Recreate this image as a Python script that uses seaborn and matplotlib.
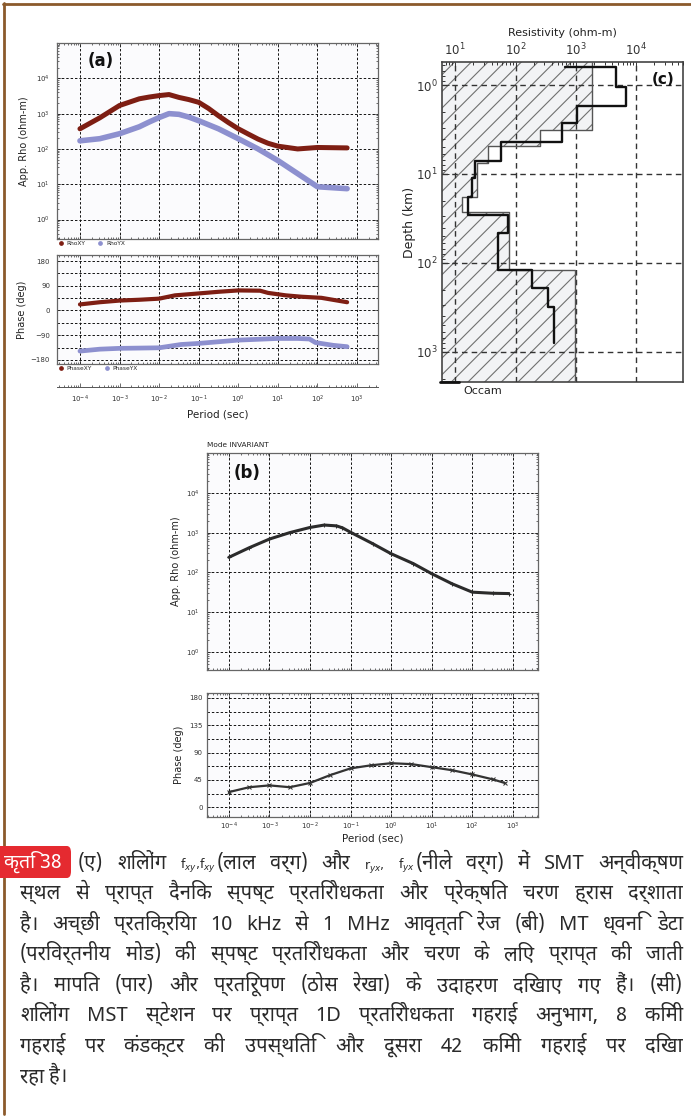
import numpy as np
import pandas as pd
import matplotlib
matplotlib.use("Agg")
import matplotlib.pyplot as plt
import seaborn as sns
from matplotlib import font_manager
from matplotlib.ft2font import FT2Font
from matplotlib.lines import Line2D
from matplotlib.patches import FancyBboxPatch
from matplotlib.ticker import FixedLocator, LogLocator, NullFormatter, MultipleLocator

# ---------------- data ----------------
# (a) Shillong SMT site: apparent resistivity (ohm-m) against log10 period (s)
log_T_rho_xy = [-4, -3.5, -3, -2.5, -2.25, -2, -1.75, -1.5, -1.25, -1, -0.75, -0.5, -0.25,
                0, 0.25, 0.5, 0.75, 1, 1.5, 2, 2.75]
rho_xy = [372, 760, 1700, 2630, 2950, 3240, 3470, 2880, 2500, 2090, 1400, 870, 560,
          372, 265, 190, 145, 120, 100, 110, 107]
log_T_rho_yx = [-4, -3.5, -3, -2.5, -2.25, -2, -1.75, -1.5, -1.25, -1, -0.5, 0, 0.5, 1,
                1.5, 2, 2.75]
rho_yx = [170, 195, 270, 425, 580, 775, 1000, 955, 800, 630, 372, 195, 100, 47,
          20, 8.5, 7.5]

# (a) phase (deg)
log_T_phase_xy = [-4, -3.5, -3, -2.5, -2, -1.6, -1, -0.5, 0, 0.55, 0.75, 1.2, 1.6, 2.1, 2.75]
phase_xy = [22, 30, 36, 39, 43, 55, 62, 68, 73, 72, 64, 55, 50, 46, 30]
log_T_phase_yx = [-4, -3.5, -3, -2.5, -2, -1.45, -1, -0.5, 0, 0.5, 1, 1.5, 1.8, 1.95, 2.4, 2.75]
phase_yx = [-148, -141, -138, -137, -136, -124, -120, -114, -108, -105, -102, -102, -104, -117, -127, -132]

# (b) invariant mode
log_T_rho_inv = [-4, -3.5, -3, -2.5, -2, -1.65, -1.35, -1.2, -1, -0.45, 0, 0.55, 1, 1.5, 2, 2.5, 2.9]
rho_inv = [240, 417, 690, 1000, 1350, 1550, 1480, 1320, 1020, 525, 295, 166, 93, 52, 32, 30, 29.5]
log_T_phase_inv = [-4, -3.5, -3, -2.5, -2, -1.5, -1, -0.5, 0, 0.5, 1, 1.5, 2, 2.5, 2.8]
phase_inv = [25, 33, 36, 33, 40, 53, 64, 69, 72.5, 71, 66, 61, 54, 46, 40]

# (c) 1D Occam resistivity-depth section
occam_top_km = [0.63, 1.05, 1.72, 2.67, 4.4, 7.1, 11, 18, 29, 46, 120, 190, 310]
occam_rho = [4700, 6900, 1050, 590, 58, 21, 19, 16.5, 76, 52, 190, 350, 440]
occam_base_km = 790
occam_start_rho = 660
bound_top_km = [0.4, 3.2, 4.8, 7.5, 18, 27, 120]
bound_rho = [1860, 257, 35, 23, 13, 77, 970]
bound_base_km = 3000

period_ticks = [1e-4, 1e-3, 1e-2, 1e-1, 1e0, 1e1, 1e2, 1e3]
rho_ticks = [1, 10, 100, 1e3, 1e4]
phase_ticks_a = [-180, -90, 0, 90, 180]
phase_ticks_b = [0, 45, 90, 135, 180]
res_ticks_c = [10, 100, 1e3, 1e4]
depth_ticks_c = [1, 10, 100, 1e3]

caption_badge = "कृति 38"
# "|" joins two pieces of one word drawn in different fonts
caption_lines = [
    "(ए) शिलोंग f$_{xy}$,f$_{xy}$|(लाल वर्ग) और r$_{yx}$, f$_{yx}$|(नीले वर्ग) में SMT अन्वीक्षण",
    "स्थल से प्राप्त दैनिक स्पष्ट प्रतिरोधकता और प्रेक्षित चरण ह्रास दर्शाता",
    "है। अच्छी प्रतिक्रिया 10 kHz से 1 MHz आवृत्ति रेंज (बी) MT ध्वनि डेटा",
    "(परिवर्तनीय मोड) की स्पष्ट प्रतिरोधकता और चरण के लिए प्राप्त की जाती",
    "है। मापित (पार) और प्रतिरूपण (ठोस रेखा) के उदाहरण दिखाए गए हैं। (सी)",
    "शिलोंग MST स्टेशन पर प्राप्त 1D प्रतिरोधकता गहराई अनुभाग, 8 किमी",
    "गहराई पर कंडक्टर की उपस्थिति और दूसरा 42 किमी गहराई पर दिखा",
    "रहा है।",
]

# ---------------- style ----------------
sns.set_theme(style="ticks")
plt.rcParams["font.family"] = ["DejaVu Sans"]
plt.rcParams["hatch.linewidth"] = 0.8
plt.rcParams["axes.facecolor"] = "#fbfbfd"

RED = "#7e1e13"
BLUE = "#8d90cf"
W, H = 691, 1120


def devanagari_family():
    found = []
    for entry in font_manager.fontManager.ttflist:
        try:
            if 0x0915 in FT2Font(entry.fname).get_charmap():
                found.append(entry.name)
        except Exception:
            continue
    preferred = ["Noto Sans Devanagari", "Lohit Devanagari", "FreeSans", "Mukta",
                 "Hind", "Poppins", "Kalimati", "Gargi", "Sarai", "Samanata"]
    for name in preferred:
        if name in found:
            return name
    plain = [n for n in found if "mono" not in n.lower()]
    if plain:
        return plain[0]
    return found[0] if found else None


deva = devanagari_family()
cap_family = ["Liberation Sans Narrow"] + ([deva] if deva else []) + ["DejaVu Sans"]
cap_family = [f for f in cap_family
              if f in {e.name for e in font_manager.fontManager.ttflist}] or ["DejaVu Sans"]

fig = plt.figure(figsize=(W / 100, H / 100), dpi=100)
fig.patch.set_facecolor("white")


def add_ax(l, t, r, b):
    return fig.add_axes([l / W, 1 - b / H, (r - l) / W, (b - t) / H])


def mt_style(ax, labelsize=5, pad=5):
    ax.tick_params(which="both", direction="in", top=True, right=True,
                   labelsize=labelsize, colors="#333", width=0.5, pad=pad)
    ax.tick_params(which="major", length=3)
    ax.tick_params(which="minor", length=1.6)
    for s in ax.spines.values():
        s.set_color("#666")
        s.set_linewidth(0.9)


def log_period_axis(ax, lo, hi):
    ax.set_xscale("log")
    ax.set_xlim(10 ** lo, 10 ** hi)
    ax.xaxis.set_major_locator(FixedLocator(period_ticks))
    ax.xaxis.set_minor_locator(LogLocator(base=10, subs=np.arange(2, 10), numticks=20))
    ax.xaxis.set_minor_formatter(NullFormatter())


def rho_axis(ax):
    ax.set_yscale("log")
    ax.set_ylim(10 ** -0.55, 10 ** 5.0)
    ax.yaxis.set_major_locator(FixedLocator(rho_ticks))
    ax.yaxis.set_minor_locator(LogLocator(base=10, subs=np.arange(2, 10), numticks=20))
    ax.yaxis.set_minor_formatter(NullFormatter())


GRID = dict(color="#111", lw=0.7, ls=(0, (2.5, 2)))


def curve(ax, logx, y, color, lw, marker=None, ms=0):
    df = pd.DataFrame({"period": np.power(10.0, logx), "value": y})
    sns.lineplot(data=df, x="period", y="value", ax=ax, color=color, lw=lw,
                 marker=marker, markersize=ms, markeredgecolor=color,
                 sort=False, estimator=None, zorder=4, solid_capstyle="round",
                 solid_joinstyle="round")
    ax.set_xlabel("")
    ax.set_ylabel("")


# ---------------- panel (a) resistivity ----------------
ax_ra = add_ax(57, 43, 378, 239)
log_period_axis(ax_ra, -4.58, 3.53)
rho_axis(ax_ra)
curve(ax_ra, log_T_rho_xy, rho_xy, RED, 3.6)
curve(ax_ra, log_T_rho_yx, rho_yx, BLUE, 4.0)
ax_ra.grid(True, which="major", **GRID)
mt_style(ax_ra)
ax_ra.tick_params(labelbottom=False)
ax_ra.set_ylabel("App. Rho (ohm-m)", fontsize=7, color="#222", labelpad=5)
ax_ra.text(0.135, 0.91, "(a)", transform=ax_ra.transAxes, fontsize=12,
           fontweight="bold", ha="center", va="center", color="#111")
ax_ra.legend(handles=[
    Line2D([], [], color=RED, marker="o", ms=2.4, lw=0),
    Line2D([], [], color=BLUE, marker="o", ms=2.4, lw=0)],
    labels=["RhoXY", "RhoYX"], loc="upper left", bbox_to_anchor=(0.0, -0.005),
    ncol=2, frameon=False, fontsize=4.2, handlelength=0.8, handletextpad=0.6,
    columnspacing=2.2, borderaxespad=0, borderpad=0.2)

# ---------------- panel (a) phase ----------------
ax_pa = add_ax(57, 255, 378, 364)
log_period_axis(ax_pa, -4.58, 3.53)
ax_pa.set_ylim(-195, 202)
curve(ax_pa, log_T_phase_xy, phase_xy, RED, 3.0)
curve(ax_pa, log_T_phase_yx, phase_yx, BLUE, 3.4)
ax_pa.yaxis.set_major_locator(FixedLocator(phase_ticks_a))
ax_pa.yaxis.set_minor_locator(MultipleLocator(45))
ax_pa.xaxis.grid(True, which="major", **GRID)
ax_pa.yaxis.grid(True, which="both", **GRID)
mt_style(ax_pa)
ax_pa.tick_params(labelbottom=False)
ax_pa.set_ylabel("Phase (deg)", fontsize=7, color="#222", labelpad=3)
ax_pa.legend(handles=[
    Line2D([], [], color=RED, marker="o", ms=2.4, lw=0),
    Line2D([], [], color=BLUE, marker="o", ms=2.4, lw=0)],
    labels=["PhaseXY", "PhaseYX"], loc="upper left", bbox_to_anchor=(0.0, -0.005),
    ncol=2, frameon=False, fontsize=4.2, handlelength=0.8, handletextpad=0.6,
    columnspacing=2.2, borderaxespad=0, borderpad=0.2)

# separate period scale under panel (a)
ax_ta = add_ax(57, 386, 378, 387)
ax_ta.set_facecolor("none")
log_period_axis(ax_ta, -4.58, 3.53)
ax_ta.set_yticks([])
for side in ("left", "right", "top"):
    ax_ta.spines[side].set_visible(False)
ax_ta.spines["bottom"].set_color("#555")
ax_ta.spines["bottom"].set_linewidth(0.7)
ax_ta.tick_params(which="both", direction="in", labelsize=5, colors="#333", width=0.5, pad=5)
ax_ta.tick_params(which="major", length=3)
ax_ta.tick_params(which="minor", length=1.6)
ax_ta.set_xlabel("Period (sec)", fontsize=7.5, color="#222", labelpad=3)

# ---------------- panel (c) ----------------
ax_c = add_ax(442, 62, 683, 382)
ax_c.set_facecolor("white")
ax_c.set_xscale("log")
ax_c.set_yscale("log")
ax_c.set_xlim(10 ** 0.78, 10 ** 4.78)
ax_c.set_ylim(10 ** 3.34, 10 ** -0.26)


def step_path(tops, rhos, base):
    xs, ys = [], []
    bottoms = list(tops[1:]) + [base]
    for t, b, r in zip(tops, bottoms, rhos):
        xs += [r, r]
        ys += [t, b]
    return xs, ys


bx, by = step_path(bound_top_km, bound_rho, bound_base_km)
ax_c.fill_betweenx(by, 1.0, bx, facecolor="#f2f3f5", edgecolor="#707070",
                   hatch="//", lw=0, zorder=1)
sns.lineplot(x=bx, y=by, ax=ax_c, sort=False, estimator=None, color="#555", lw=1.0, zorder=3)
mx, my = step_path(occam_top_km, occam_rho, occam_base_km)
mx = [occam_start_rho] + mx
my = [occam_top_km[0]] + my
sns.lineplot(x=mx, y=my, ax=ax_c, sort=False, estimator=None, color="#111", lw=1.7, zorder=4)
ax_c.xaxis.set_major_locator(FixedLocator(res_ticks_c))
ax_c.yaxis.set_major_locator(FixedLocator(depth_ticks_c))
for axis in (ax_c.xaxis, ax_c.yaxis):
    axis.set_minor_locator(LogLocator(base=10, subs=np.arange(2, 10), numticks=20))
    axis.set_minor_formatter(NullFormatter())
ax_c.grid(True, which="major", color="#333", lw=1.0, ls=(0, (4, 3)), zorder=2)
ax_c.set_axisbelow(False)
ax_c.xaxis.tick_top()
ax_c.xaxis.set_label_position("top")
ax_c.tick_params(which="both", direction="in", top=True, bottom=False, left=True, right=False,
                 labeltop=True, labelbottom=False, labelsize=8.5, colors="#333", width=0.7, pad=3)
ax_c.tick_params(which="major", length=5)
ax_c.tick_params(which="minor", length=2.5)
for s in ax_c.spines.values():
    s.set_color("#444")
    s.set_linewidth(1.2)
ax_c.set_xlabel("Resistivity (ohm-m)", fontsize=8, color="#222", labelpad=4)
ax_c.set_ylabel("Depth (km)", fontsize=9, color="#222", labelpad=0)
ax_c.text(0.917, 0.944, "(c)", transform=ax_c.transAxes, fontsize=11,
          fontweight="bold", ha="center", va="center", color="#111", zorder=6)
ax_c.add_line(Line2D([-0.01, 0.07], [0.0, 0.0], transform=ax_c.transAxes,
                     color="#111", lw=2.0, clip_on=False, zorder=6))
ax_c.text(0.087, -0.012, "Occam", transform=ax_c.transAxes, fontsize=8,
          ha="left", va="top", color="#222")

# ---------------- panel (b) ----------------
ax_rb = add_ax(207, 453, 538, 670)
log_period_axis(ax_rb, -4.54, 3.62)
rho_axis(ax_rb)
ax_rb.set_ylim(10 ** -0.45, 10 ** 5.0)
curve(ax_rb, log_T_rho_inv, rho_inv, "#2b2b2b", 2.2, "+", 3)
ax_rb.grid(True, which="major", **GRID)
mt_style(ax_rb)
ax_rb.tick_params(labelbottom=False)
ax_rb.set_ylabel("App. Rho (ohm-m)", fontsize=7, color="#222", labelpad=4)
ax_rb.text(0.12, 0.908, "(b)", transform=ax_rb.transAxes, fontsize=12,
           fontweight="bold", ha="center", va="center", color="#111")
ax_rb.text(0.0, 1.035, "Mode INVARIANT", transform=ax_rb.transAxes, fontsize=5.3,
           ha="left", va="center", color="#222")

ax_pb = add_ax(207, 693, 538, 817)
log_period_axis(ax_pb, -4.54, 3.62)
ax_pb.set_ylim(-16, 188)
curve(ax_pb, log_T_phase_inv, phase_inv, "#333", 1.6, "x", 3)
ax_pb.yaxis.set_major_locator(FixedLocator(phase_ticks_b))
ax_pb.yaxis.set_minor_locator(MultipleLocator(22.5))
ax_pb.xaxis.grid(True, which="major", **GRID)
ax_pb.yaxis.grid(True, which="both", **GRID)
mt_style(ax_pb, pad=3)
ax_pb.set_ylabel("Phase (deg)", fontsize=7, color="#222", labelpad=4)
ax_pb.set_xlabel("Period (sec)", fontsize=7.5, color="#222", labelpad=1)

# ---------------- frame ----------------
BROWN = "#8b5a2b"
fig.add_artist(Line2D([4 / W, 4 / W], [1 - 3 / H, 1 - 1114 / H], transform=fig.transFigure,
                      color=BROWN, lw=2.0))
fig.add_artist(Line2D([3 / W, 1.0], [1 - 4 / H, 1 - 4 / H], transform=fig.transFigure,
                      color=BROWN, lw=2.0))

# ---------------- caption ----------------
renderer = fig.canvas.get_renderer()
TEXT_COLOR = "#2a2a2a"


def make_piece(piece, size, x, y_base):
    if "$" in piece:
        return fig.text(x / W, 1 - y_base / H, piece, fontsize=size * 0.62,
                        family="DejaVu Sans", color=TEXT_COLOR, va="baseline", ha="left")
    return fig.text(x / W, 1 - y_base / H, piece, fontsize=size, family=cap_family,
                    color=TEXT_COLOR, va="baseline", ha="left")


def piece_width(piece, size):
    t = make_piece(piece, size, 0, 0)
    w = t.get_window_extent(renderer).width
    t.remove()
    return w


def word_width(word, size):
    return sum(piece_width(p, size) for p in word.split("|"))


def draw_word(word, size, x, y_base):
    for p in word.split("|"):
        make_piece(p, size, x, y_base)
        x += piece_width(p, size)


line_x0 = [78] + [20] * 7
line_x1 = 683
line_base = [869, 899, 930, 960, 991, 1021, 1052, 1082]

size = 14.5
min_gap = 5
ratio = 1.0
for k, line in enumerate(caption_lines[:-1]):
    words = line.split(" ")
    need = sum(word_width(w, size) for w in words) + min_gap * (len(words) - 1)
    ratio = min(ratio, (line_x1 - line_x0[k]) / need)
size *= ratio

for k, line in enumerate(caption_lines):
    words = line.split(" ")
    widths = [word_width(w, size) for w in words]
    if k < len(caption_lines) - 1:
        gap = (line_x1 - line_x0[k] - sum(widths)) / (len(words) - 1)
    else:
        gap = size * 0.3
    x = line_x0[k]
    for w, wd in zip(words, widths):
        draw_word(w, size, x, line_base[k])
        x += wd + gap

badge = FancyBboxPatch((-6 / W, 1 - 878 / H), 77 / W, 32 / H,
                       boxstyle="round,pad=0,rounding_size=0.006",
                       transform=fig.transFigure, fc="#e52a30", ec="none", zorder=5)
fig.add_artist(badge)
fig.text(33 / W, 1 - 862 / H, caption_badge, fontsize=14, fontweight="bold",
         family=cap_family, color="white", ha="center", va="center", zorder=6)

fig.savefig("out.png", dpi=100)
